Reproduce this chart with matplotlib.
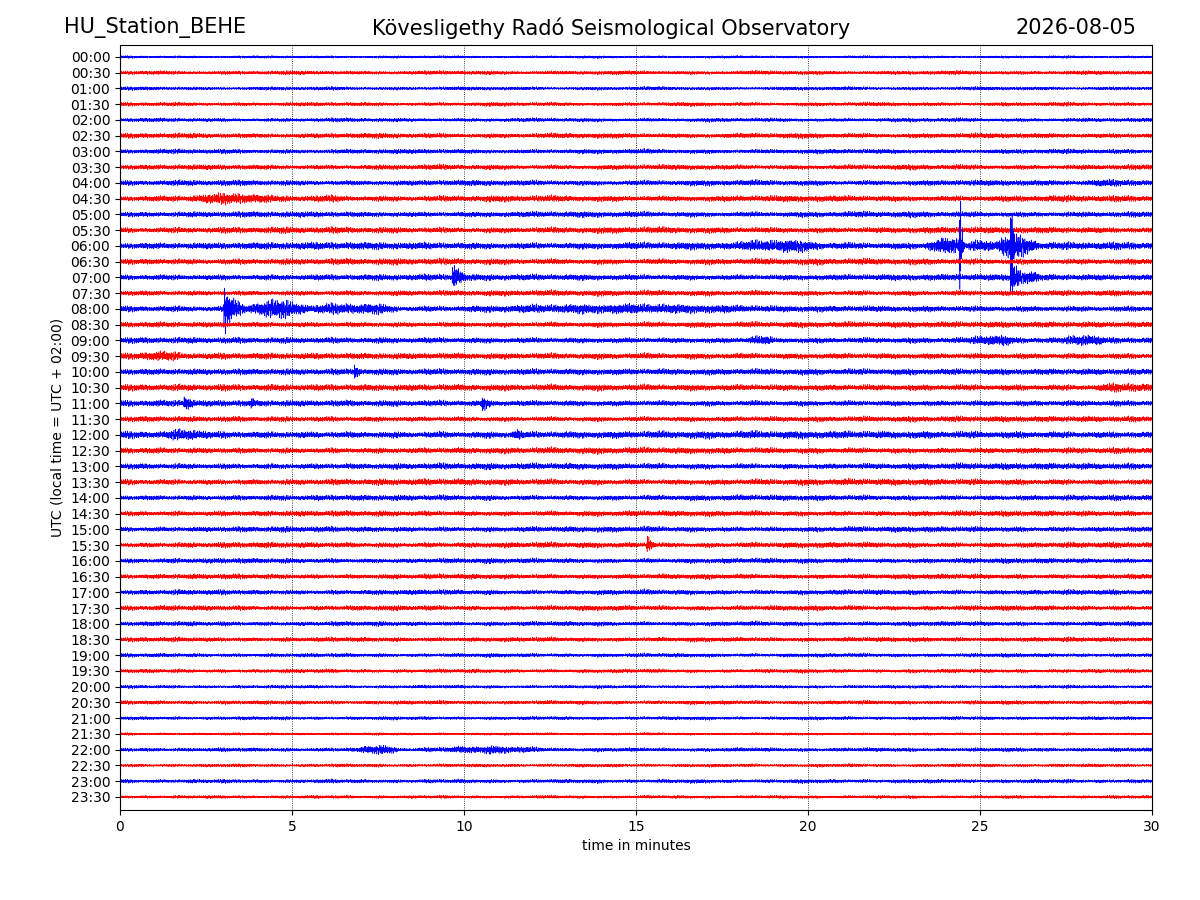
import numpy as np
import matplotlib
matplotlib.use("Agg")
import matplotlib.pyplot as plt

# row labels (one row = 30 minutes)
row_labels = ["%02d:%02d" % (h, m) for h in range(24) for m in (0, 30)]

# background noise half-width of each row, in pixels
noise_px = [1.2, 1.8, 1.6, 1.8, 1.8, 2.3, 2.1, 2.3, 2.5, 2.8,
            2.6, 2.8, 3.3, 2.8, 2.8, 2.5, 2.8, 2.6, 2.8, 2.8,
            2.6, 2.8, 2.8, 2.5, 3.3, 2.8, 2.8, 2.8, 2.5, 2.5,
            2.5, 2.5, 2.3, 2.3, 2.3, 2.3, 2.1, 2.1, 1.8, 1.8,
            1.5, 1.8, 1.6, 1.2, 1.8, 1.5, 1.8, 1.5]

# busy stretches: (row, start min, end min, half-width px)
busy_rows = [9, 9, 12, 12, 12, 12, 14, 16, 16, 16, 18, 18, 18, 19, 21, 24, 24, 44, 44, 8, 13]
busy_start = [1.5, 4.5, 17.5, 23.3, 24.5, 25.3, 26.0, 3.4, 5.0, 7.5, 18.0, 24.5, 27.3, 0.0, 28.0, 1.0, 11.3, 6.8, 7.8, 27.5, 0.0]
busy_end = [5.0, 7.5, 21.0, 24.6, 25.6, 26.8, 26.8, 5.8, 8.5, 21.0, 19.2, 26.2, 28.8, 2.2, 30.5, 3.0, 11.8, 8.2, 13.5, 30.5, 2.0]
busy_px = [5.0, 3.5, 6.0, 9.5, 7.5, 11.0, 6.5, 10.0, 6.5, 4.5, 5.0, 6.0, 6.0, 4.5, 5.0, 5.5, 6.0, 4.5, 3.5, 4.0, 3.5]

# short impulsive events: (row, onset min, peak half-width px, decay min)
ev_rows = [12, 12, 14, 14, 16, 20, 22, 22, 22, 31]
ev_time = [24.4, 25.88, 9.65, 25.88, 3.0, 6.8, 1.85, 10.5, 3.8, 15.3]
ev_px = [45.0, 47.0, 12.0, 15.0, 25.0, 7.0, 6.5, 7.5, 5.0, 9.0]
ev_decay = [0.05, 0.07, 0.3, 0.25, 0.35, 0.15, 0.3, 0.2, 0.15, 0.18]

row_px = 15.74  # pixel distance between two rows

fig = plt.figure(figsize=(12, 9), dpi=100)
ax = fig.add_axes([0.1, 0.1, 0.86, 0.85])

n = 7000
t = np.linspace(0, 30, n)
k = np.arange(n)
# fixed wiggle carrier, a few incommensurate oscillations
carrier = (np.cos(k * 2.399963) + np.cos(k * 1.732051 + 1.0)
           + np.cos(k * 2.828427 + 2.0) + np.cos(k * 0.618034 + 0.5))
carrier = carrier / carrier.std() / 2.3

for i, lab in enumerate(row_labels):
    slow = 1.0 + 0.25 * np.cos(t * (0.9 + 0.07 * i) + i * 1.3) * np.cos(t * 2.3 + i)
    env = noise_px[i] * slow
    for r, a, b, p in zip(busy_rows, busy_start, busy_end, busy_px):
        if r == i:
            m = (t >= a) & (t <= b)
            win = np.sin(np.pi * (t[m] - a) / (b - a)) ** 0.7
            env[m] = np.maximum(env[m], p * win * slow[m])
    for r, t0, p, d in zip(ev_rows, ev_time, ev_px, ev_decay):
        if r == i:
            m = t >= t0
            dt = t[m] - t0
            shape = np.exp(-dt / d) * (1 - np.exp(-dt / 0.008))
            # scale so the largest swing of the event reaches the read value
            peak = np.abs(carrier[m] * shape).max()
            env[m] = np.maximum(env[m], p * shape / peak)
    y = -i + carrier * env / row_px
    ax.plot(t, y, color="b" if i % 2 == 0 else "r", lw=0.4)

ax.set_xlim(0, 30)
ax.set_ylim(-47.83, 0.76)
ax.set_yticks(-np.arange(len(row_labels)))
ax.set_yticklabels(row_labels)
ax.set_xticks(range(0, 31, 5))
ax.xaxis.grid(True, linestyle=":", color="k", lw=0.6)
ax.set_xlabel("time in minutes")
ax.set_ylabel("UTC (local time = UTC + 02:00)")

fig.text(0.053, 0.969, "HU_Station_BEHE", fontsize=15, ha="left", va="center")
fig.text(0.509, 0.969, "Kövesligethy Radó Seismological Observatory", fontsize=15, ha="center", va="center")
fig.text(0.947, 0.969, "2026-08-05", fontsize=15, ha="right", va="center")

plt.savefig("out.png", dpi=100)
